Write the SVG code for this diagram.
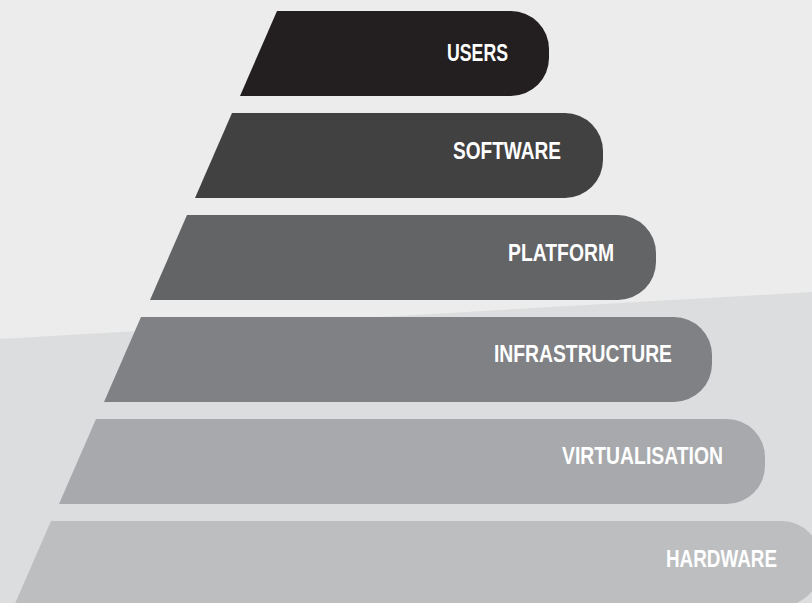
<svg xmlns="http://www.w3.org/2000/svg" width="812" height="603" viewBox="0 0 812 603">
<style>
.lbl{font-family:"Liberation Sans",Arial,sans-serif;font-size:24px;font-weight:bold;fill:#ffffff}
</style>
<rect x="0" y="0" width="812" height="603" fill="#ebeceb"/>
<polygon points="0,339 812,292 812,603 0,603" fill="#dcdddf"/>
<g id="users">
<path d="M277,11 H511 A38,38 0 0 1 549,49 V58 A38,38 0 0 1 511,96 H240 Z" fill="#231f20"/>
<text class="lbl" x="447" y="61" textLength="61" lengthAdjust="spacingAndGlyphs">USERS</text>
</g>
<g id="software">
<path d="M232,113 H565 A38,38 0 0 1 603,151 V160 A38,38 0 0 1 565,198 H195 Z" fill="#414141"/>
<text class="lbl" x="453" y="159" textLength="108" lengthAdjust="spacingAndGlyphs">SOFTWARE</text>
</g>
<g id="platform">
<path d="M187,215 H618 A38,38 0 0 1 656,253 V262 A38,38 0 0 1 618,300 H150 Z" fill="#636466"/>
<text class="lbl" x="508" y="261" textLength="106" lengthAdjust="spacingAndGlyphs">PLATFORM</text>
</g>
<g id="infrastructure">
<path d="M141,317 H674 A38,38 0 0 1 712,355 V364 A38,38 0 0 1 674,402 H104 Z" fill="#808184"/>
<text class="lbl" x="494" y="362" textLength="178" lengthAdjust="spacingAndGlyphs">INFRASTRUCTURE</text>
</g>
<g id="virtualisation">
<path d="M96,419 H727 A38,38 0 0 1 765,457 V466 A38,38 0 0 1 727,504 H59 Z" fill="#a7a9ac"/>
<text class="lbl" x="562" y="464" textLength="161" lengthAdjust="spacingAndGlyphs">VIRTUALISATION</text>
</g>
<g id="hardware">
<path d="M51,521 H782 A38,38 0 0 1 820,559 V568 A38,38 0 0 1 782,606 H14 Z" fill="#bcbec0"/>
<text class="lbl" x="666" y="567" textLength="111" lengthAdjust="spacingAndGlyphs">HARDWARE</text>
</g>
<g id="connectors"/>
</svg>
